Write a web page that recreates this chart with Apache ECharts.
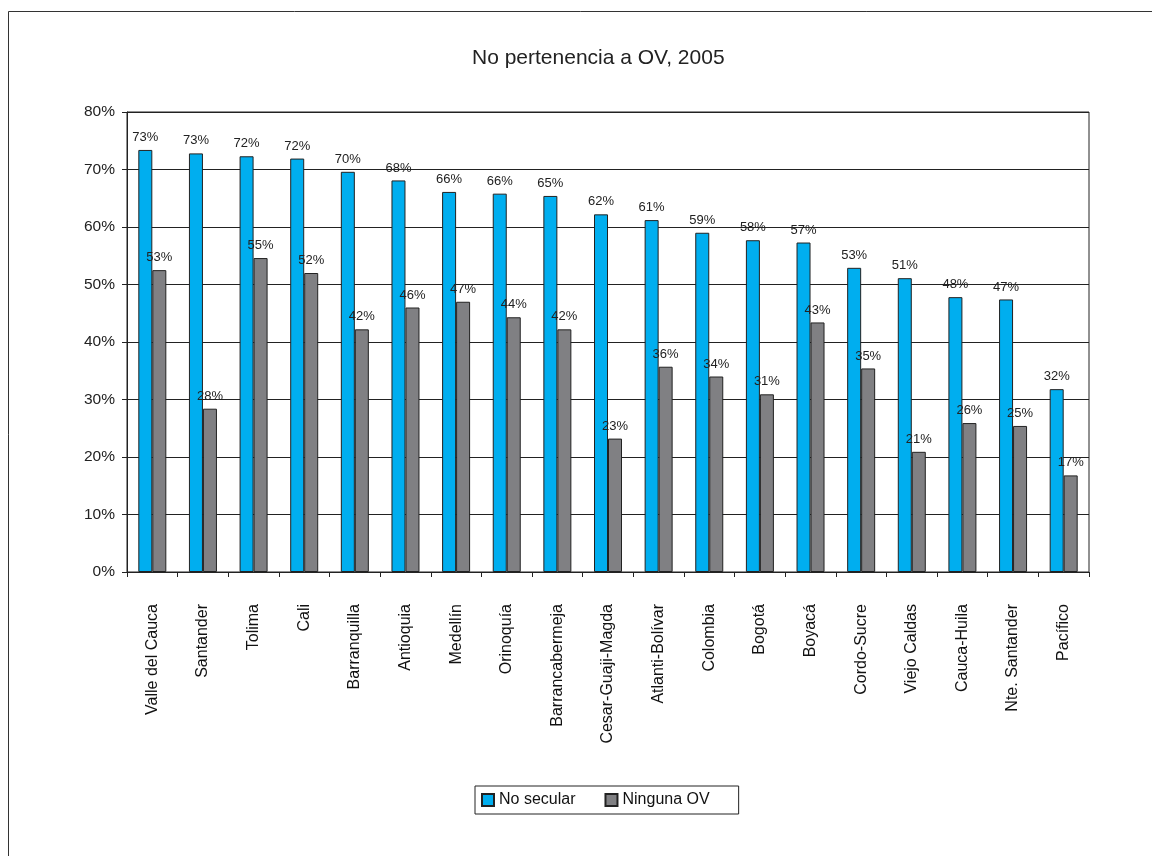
<!DOCTYPE html>
<html>
<head>
<meta charset="utf-8">
<script src="https://cdn.jsdelivr.net/npm/echarts@6/dist/echarts.min.js"></script>
<style>
html,body{margin:0;padding:0;background:#fff;}
#c{width:1152px;height:856px;}
</style>
</head>
<body>
<div id="c"></div>
<script>
const categories = ["Valle del Cauca","Santander","Tolima","Cali","Barranquilla","Antioquia","Medellín","Orinoquía","Barrancabermeja","Cesar-Guaji-Magda","Atlanti-Bolívar","Colombia","Bogotá","Boyacá","Cordo-Sucre","Viejo Caldas","Cauca-Huila","Nte. Santander","Pacífico"];
const noSecular = [73.4,72.8,72.3,71.9,69.6,68.1,66.1,65.8,65.4,62.2,61.2,59.0,57.7,57.3,52.9,51.1,47.8,47.4,31.8];
const ningunaOV = [52.5,28.4,54.6,52.0,42.2,46.0,47.0,44.3,42.2,23.2,35.7,34.0,30.9,43.4,35.4,20.9,25.9,25.4,16.8];
const seriesNames = ["No secular","Ninguna OV"];
const titleText = "No pertenencia a OV, 2005";

const chart = echarts.init(document.getElementById('c'), null, {renderer:'canvas'});
const font = 'Liberation Sans, Arial, sans-serif';
const lbl = {show:true, position:'top', distance:6, color:'#222', fontSize:13, fontFamily:font,
  formatter: p => Math.round(p.value) + '%'};
chart.setOption({
  animation:false,
  backgroundColor:'#fff',
  title:{text:titleText, left:467, top:43,
    textStyle:{fontFamily:font, fontSize:21, fontWeight:'normal', color:'#222'}},
  graphic:[{type:'rect', shape:{x:8.5, y:11.5, width:1200, height:860},
    style:{fill:null, stroke:'#333', lineWidth:1}, silent:true, z:-10}],
  legend:{bottom:42, left:475, itemGap:29, itemWidth:12, itemHeight:12,
    data:seriesNames, borderColor:'#222', borderWidth:1, padding:[6,29,6,6],
    textStyle:{fontFamily:font, fontSize:16, color:'#111'}, icon:'rect'},
  grid:{left:127, right:63, top:112, bottom:284, show:true, borderColor:'#222', borderWidth:1},
  xAxis:{type:'category', data:categories,
    axisLine:{lineStyle:{color:'#222'}},
    axisTick:{show:true, length:5, alignWithLabel:false, lineStyle:{color:'#222'}},
    axisLabel:{rotate:90, interval:0, margin:32, fontFamily:font, fontSize:16, color:'#111'}},
  yAxis:{type:'value', min:0, max:80, interval:10,
    axisLine:{show:true, lineStyle:{color:'#222'}},
    axisTick:{show:true, length:5, lineStyle:{color:'#222'}},
    axisLabel:{formatter:'{value}%', fontFamily:font, fontSize:15.5, color:'#222', margin:12},
    splitLine:{lineStyle:{color:'#222', width:1}}},
  series:[
    {name:seriesNames[0], type:'bar', data:noSecular, barWidth:14, barGap:'0%',
      itemStyle:{color:'#00AEEF', borderColor:'#222', borderWidth:1}, label:lbl},
    {name:seriesNames[1], type:'bar', data:ningunaOV, barWidth:14,
      itemStyle:{color:'#808083', borderColor:'#222', borderWidth:1}, label:lbl}
  ]
});
</script>
</body>
</html>
